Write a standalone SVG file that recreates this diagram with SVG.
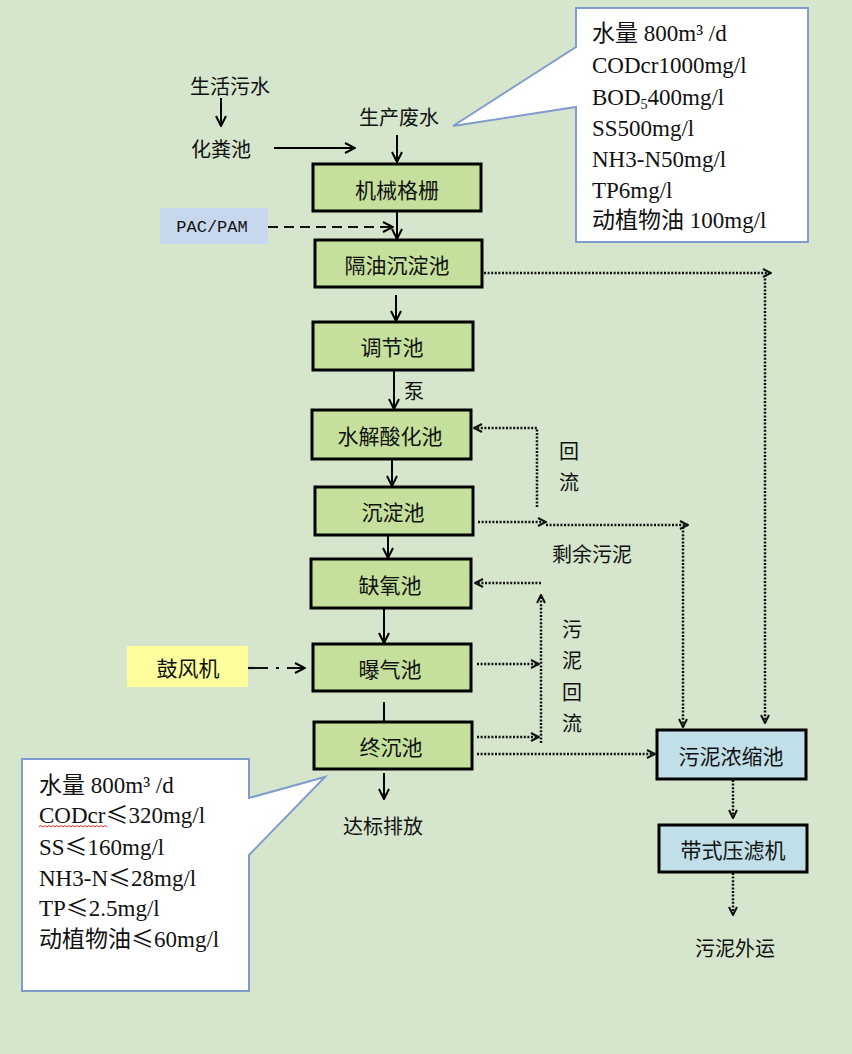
<svg xmlns="http://www.w3.org/2000/svg" width="852" height="1054" viewBox="0 0 852 1054">
<style>
.bg{fill:#d5e6cd}
.box{fill:#c5e09c;stroke:#000;stroke-width:3}
.bbox{fill:#c1dfe8;stroke:#000;stroke-width:3}
.lbl{font-family:"Noto Sans CJK SC",sans-serif;font-size:21px;fill:#111;text-anchor:middle;dominant-baseline:central}
.sm{font-family:"Noto Sans CJK SC",sans-serif;font-size:20px;fill:#111;text-anchor:middle;dominant-baseline:central}
.call{fill:#fff;stroke:#7f9ccc;stroke-width:2}
.ct{font-family:"Liberation Serif","Noto Sans CJK SC",serif;font-size:23px;fill:#111}
.cjk{font-family:"Noto Sans CJK SC",sans-serif}
.solid{stroke:#000;stroke-width:2;fill:none}
.dot{stroke:#111;stroke-width:2.5;stroke-dasharray:2 1.6;fill:none}
.dash{stroke:#111;stroke-width:2.2;stroke-dasharray:10 6;fill:none}
.dd{stroke:#111;stroke-width:2.2;stroke-dasharray:20 8 3 8;fill:none}
</style>
<defs>
<marker id="ah" viewBox="0 0 12 12" refX="11" refY="6" markerWidth="12" markerHeight="12" markerUnits="userSpaceOnUse" orient="auto"><path d="M1,1 L11,6 L1,11" fill="none" stroke="#000" stroke-width="2"/></marker>
<marker id="ahd" viewBox="0 0 10 10" refX="9" refY="5" markerWidth="10" markerHeight="10" markerUnits="userSpaceOnUse" orient="auto"><path d="M1,1 L9,5 L1,9" fill="none" stroke="#111" stroke-width="2"/></marker>
</defs>
<rect class="bg" x="0" y="0" width="852" height="1054"/>

<g id="labels">
<text class="sm" x="230" y="85">生活污水</text>
<text class="sm" x="221" y="148">化粪池</text>
<text class="sm" x="399" y="116">生产废水</text>
<text class="sm" x="414" y="390">泵</text>
<text class="sm" x="569" y="450">回</text>
<text class="sm" x="569" y="481">流</text>
<text class="sm" x="592" y="553">剩余污泥</text>
<text class="sm" x="572" y="628">污</text>
<text class="sm" x="572" y="659">泥</text>
<text class="sm" x="572" y="691">回</text>
<text class="sm" x="572" y="722">流</text>
<text class="sm" x="383" y="825">达标排放</text>
<text class="sm" x="735" y="947">污泥外运</text>
</g>

<g id="connectors">
<path class="solid" d="M221,98 V126" marker-end="url(#ah)"/>
<path class="solid" d="M274,148 H355" marker-end="url(#ah)"/>
<path class="solid" d="M397,135 V162" marker-end="url(#ah)"/>
<path class="solid" d="M397,212 V239" marker-end="url(#ah)"/>
<path class="dash" d="M268,227 H393" marker-end="url(#ah)"/>
<path class="solid" d="M396,295 V321" marker-end="url(#ah)"/>
<path class="solid" d="M394,371 V409" marker-end="url(#ah)"/>
<path class="solid" d="M392,460 V486" marker-end="url(#ah)"/>
<path class="solid" d="M388,536 V558" marker-end="url(#ah)"/>
<path class="solid" d="M384,609 V643" marker-end="url(#ah)"/>
<path class="solid" d="M384,702 V721"/>
<path class="solid" d="M384,773 V799" marker-end="url(#ah)"/>
<path class="dd" d="M248,668 H305" marker-end="url(#ah)"/>
<path class="dot" d="M484,273 H771" marker-end="url(#ahd)"/>
<path class="dot" d="M765,275 V723" marker-end="url(#ahd)"/>
<path class="dot" d="M537,507 V428 H474" marker-end="url(#ahd)"/>
<path class="dot" d="M478,522 H546" marker-end="url(#ahd)"/>
<path class="dot" d="M546,525 H688" marker-end="url(#ahd)"/>
<path class="dot" d="M683,527 V727" marker-end="url(#ahd)"/>
<path class="dot" d="M541,583 H475" marker-end="url(#ahd)"/>
<path class="dot" d="M541,743 V595" marker-end="url(#ahd)"/>
<path class="dot" d="M477,664 H539" marker-end="url(#ahd)"/>
<path class="dot" d="M477,737 H539" marker-end="url(#ahd)"/>
<path class="dot" d="M477,754 H655" marker-end="url(#ahd)"/>
<path class="dot" d="M733,780 V818" marker-end="url(#ahd)"/>
<path class="dot" d="M733,873 V915" marker-end="url(#ahd)"/>
</g>

<g id="n-jixie"><rect class="box" x="313" y="164" width="168" height="47"/><text class="lbl" x="397" y="189">机械格栅</text></g>
<g id="n-pac"><rect x="160" y="208" width="108" height="36" fill="#c6d7ee"/><text x="212" y="232" font-family="Liberation Mono,monospace" font-size="17" fill="#111" text-anchor="middle">PAC/PAM</text></g>
<g id="n-geyou"><rect class="box" x="315" y="240" width="167" height="47"/><text class="lbl" x="397" y="264">隔油沉淀池</text></g>
<g id="n-tiaojie"><rect class="box" x="313" y="322" width="160" height="48"/><text class="lbl" x="392" y="346">调节池</text></g>
<g id="n-shuijie"><rect class="box" x="312" y="410" width="159" height="49"/><text class="lbl" x="390" y="435">水解酸化池</text></g>
<g id="n-chendian"><rect class="box" x="315" y="487" width="158" height="48"/><text class="lbl" x="393" y="511">沉淀池</text></g>
<g id="n-queyang"><rect class="box" x="311" y="559" width="160" height="49"/><text class="lbl" x="390" y="584">缺氧池</text></g>
<g id="n-puqi"><rect class="box" x="313" y="644" width="158" height="47"/><text class="lbl" x="390" y="668">曝气池</text></g>
<g id="n-gufeng"><rect x="127" y="646" width="121" height="41" fill="#fefe9c"/><text class="lbl" x="188" y="667">鼓风机</text></g>
<g id="n-zhongchen"><rect class="box" x="314" y="722" width="158" height="47"/><text class="lbl" x="391" y="746">终沉池</text></g>
<g id="n-nongsuo"><rect class="bbox" x="657" y="730" width="149" height="49"/><text class="lbl" x="731" y="755">污泥浓缩池</text></g>
<g id="n-yalv"><rect class="bbox" x="659" y="825" width="148" height="47"/><text class="lbl" x="733" y="849">带式压滤机</text></g>

<g id="callout-in">
<path class="call" d="M576,8 H808 V242 H576 V107 L453,126 L576,47 Z"/>
<text class="ct" x="592" y="41">水量 800m³ /d</text>
<text class="ct" x="592" y="73">CODcr1000mg/l</text>
<text class="ct" x="592" y="105">BOD<tspan font-size="14" dy="4">5</tspan><tspan dy="-4">400mg/l</tspan></text>
<text class="ct" x="592" y="136">SS500mg/l</text>
<text class="ct" x="592" y="167">NH3-N50mg/l</text>
<text class="ct" x="592" y="198">TP6mg/l</text>
<text class="ct" x="592" y="228">动植物油 100mg/l</text>
</g>

<g id="callout-out">
<path class="call" d="M22,759 H249 V798 L325,777 L249,855 V991 H22 Z"/>
<text class="ct" x="39" y="793">水量 800m³ /d</text>
<text class="ct" x="39" y="823">CODcr<tspan class="cjk">≤</tspan>320mg/l</text>
<path d="M39,827 l2,-1.5 l2,1.5 l2,-1.5 l2,1.5 l2,-1.5 l2,1.5 l2,-1.5 l2,1.5 l2,-1.5 l2,1.5 l2,-1.5 l2,1.5 l2,-1.5 l2,1.5 l2,-1.5 l2,1.5 l2,-1.5 l2,1.5 l2,-1.5 l2,1.5 l2,-1.5 l2,1.5 l2,-1.5 l2,1.5 l2,-1.5 l2,1.5 l2,-1.5 l2,1.5 l2,-1.5 l2,1.5 l2,-1.5 l2,1.5 l2,-1.5 l2,1.5" fill="none" stroke="#e0302a" stroke-width="1"/>
<text class="ct" x="39" y="855">SS<tspan class="cjk">≤</tspan>160mg/l</text>
<text class="ct" x="39" y="886">NH3-N<tspan class="cjk">≤</tspan>28mg/l</text>
<text class="ct" x="39" y="916">TP<tspan class="cjk">≤</tspan>2.5mg/l</text>
<text class="ct" x="39" y="947">动植物油<tspan class="cjk">≤</tspan>60mg/l</text>
</g>
</svg>
